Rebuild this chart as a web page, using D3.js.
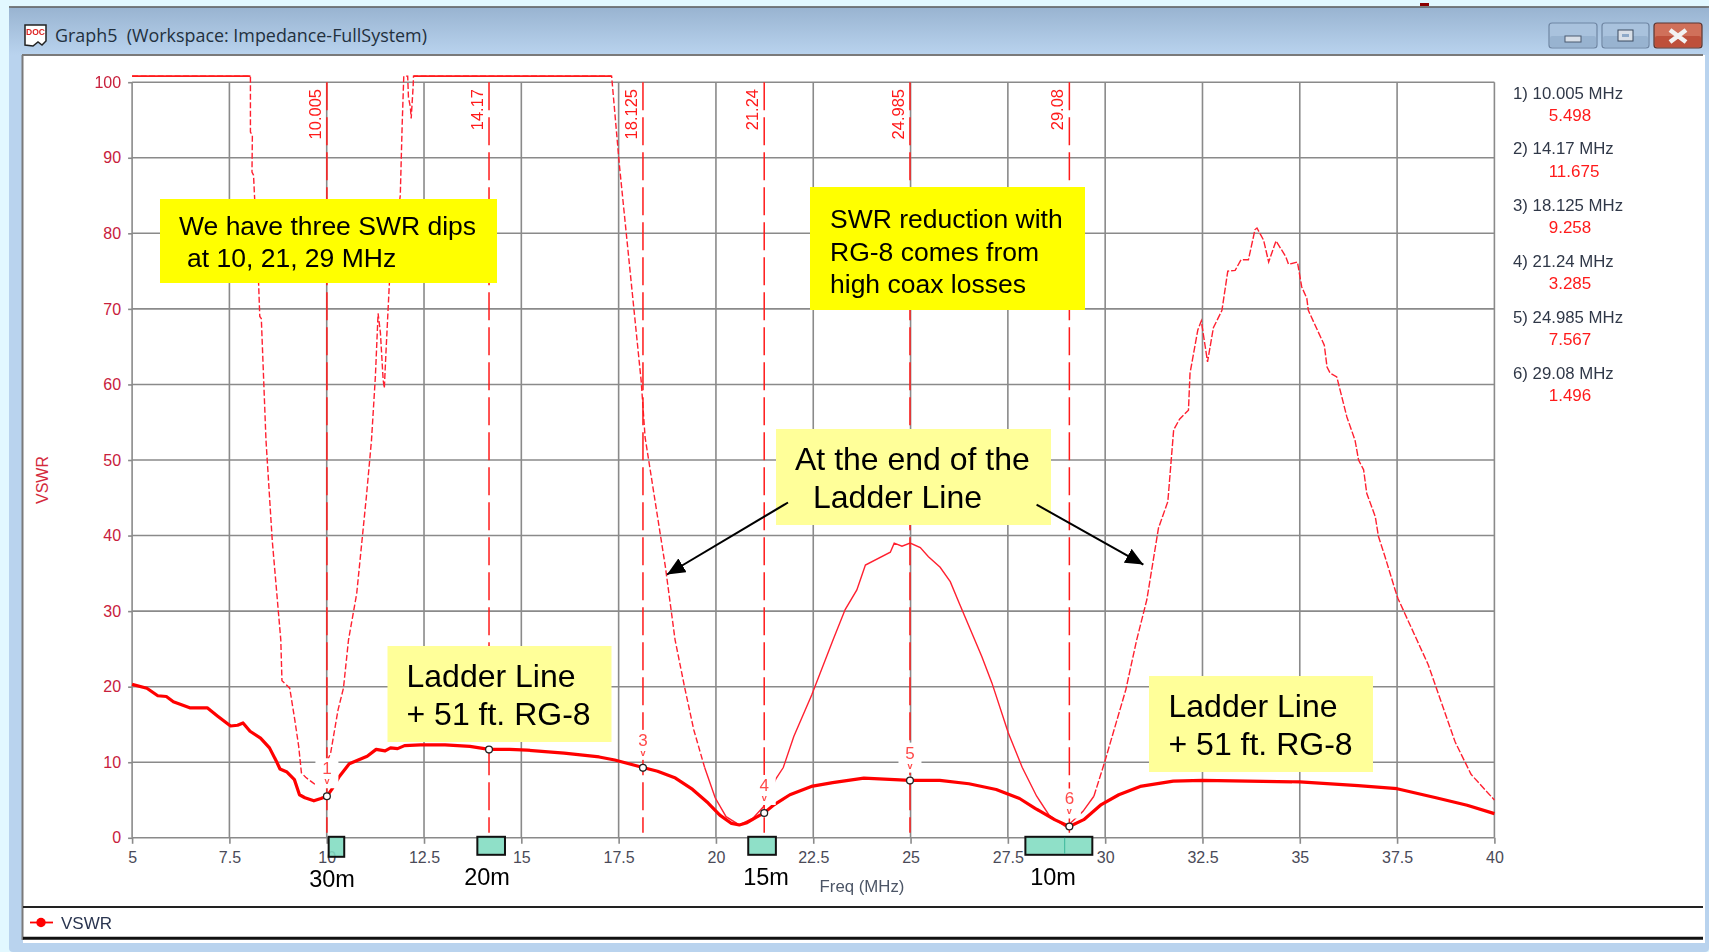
<!DOCTYPE html>
<html>
<head>
<meta charset="utf-8">
<title>Graph5</title>
<script src="https://cdn.jsdelivr.net/npm/d3@7"></script>
<style>
  html, body { margin: 0; padding: 0; background: #e2f8ff; overflow: hidden; }
  svg { display: block; font-family: "Liberation Sans", Arial, sans-serif; filter: blur(0.35px); }
</style>
</head>
<body>
<svg id="chart" width="1709" height="952"></svg>
<script>
// ---- data ----
var xTicks = [5, 7.5, 10, 12.5, 15, 17.5, 20, 22.5, 25, 27.5, 30, 32.5, 35, 37.5, 40];
var yTicks = [0, 10, 20, 30, 40, 50, 60, 70, 80, 90, 100];

// heavy trace: ladder line + 51 ft RG-8
var coaxFreq = [5, 5.38, 5.66, 5.88, 6.06, 6.48, 6.93, 7.2, 7.53, 7.71, 7.85, 8.03, 8.3, 8.53, 8.71, 8.8, 8.98, 9.17, 9.3, 9.44, 9.67, 9.85, 10.005, 10.13, 10.31, 10.58, 10.81, 11.04, 11.27, 11.5, 11.64, 11.82, 12, 12.41, 13.04, 13.68, 14.17, 14.7, 15.15, 16.1, 17, 17.4, 18.125, 18.5, 18.96, 19.4, 19.8, 20.1, 20.4, 20.6, 20.8, 21.03, 21.24, 21.5, 21.9, 22.45, 23, 23.8, 24.985, 25.75, 26.5, 27.2, 27.8, 28.2, 28.7, 29.08, 29.45, 29.9, 30.35, 30.9, 31.75, 32.5, 35, 36.5, 37.5, 38.5, 39.3, 40];
var coaxVswr = [20.3, 19.8, 18.8, 18.7, 18, 17.2, 17.2, 16.1, 14.8, 14.9, 15.2, 14.1, 13.2, 11.9, 10.1, 9.1, 8.7, 7.7, 5.7, 5.3, 4.9, 5.2, 5.5, 6.4, 8, 9.8, 10.3, 10.8, 11.7, 11.5, 11.9, 11.8, 12.2, 12.3, 12.3, 12.1, 11.7, 11.7, 11.6, 11.2, 10.7, 10.3, 9.3, 8.8, 7.9, 6.4, 4.6, 3, 1.9, 1.7, 2, 2.7, 3.3, 4.4, 5.7, 6.8, 7.3, 7.9, 7.6, 7.6, 7.15, 6.4, 5.2, 3.9, 2.4, 1.5, 2.4, 4.4, 5.7, 6.8, 7.5, 7.6, 7.4, 6.9, 6.5, 5.3, 4.3, 3.2];

// thin trace: end of the ladder line (100.8 = pinned above the plot top)
var ladderFreq = [5, 8.04, 8.04, 8.09, 8.08, 8.12, 8.25, 8.28, 8.32, 8.44, 8.6, 8.82, 8.85, 9.05, 9.18, 9.28, 9.35, 9.46, 9.69, 9.76, 10.1, 10.29, 10.43, 10.56, 10.77, 11.02, 11.15, 11.25, 11.32, 11.38, 11.45, 11.48, 11.52, 11.61, 11.89, 11.94, 11.98, 12.08, 12.1, 12.15, 12.17, 12.22, 12.23, 17.32, 17.52, 18.08, 18.18, 18.7, 18.95, 19.2, 19.43, 19.71, 19.98, 20.26, 20.6, 20.95, 21.22, 21.54, 21.73, 22, 22.46, 23.01, 23.32, 23.62, 23.84, 24.48, 24.58, 24.78, 24.99, 25.25, 25.46, 25.76, 26.02, 26.27, 26.83, 27.09, 27.51, 27.87, 28.24, 28.56, 29, 29.43, 29.71, 29.98, 30.53, 30.81, 31.07, 31.37, 31.61, 31.76, 31.91, 32.14, 32.18, 32.38, 32.47, 32.63, 32.78, 33, 33.15, 33.34, 33.49, 33.68, 33.85, 33.9, 34.07, 34.2, 34.39, 34.64, 34.71, 34.94, 35.05, 35.18, 35.22, 35.63, 35.7, 35.78, 35.95, 36.21, 36.42, 36.51, 36.64, 36.72, 36.94, 37.02, 37.19, 37.45, 37.52, 38.3, 38.99, 39.4, 40];
var ladderVswr = [100.8, 100.8, 93.4, 93, 88.1, 87.7, 73.4, 69, 68.7, 52.6, 39.4, 26.2, 20.8, 19.8, 15.6, 12.1, 8.6, 8, 7.1, 7.1, 11.2, 16.9, 19.8, 26.2, 32.3, 45.2, 52.6, 61, 69.4, 66.8, 60.6, 59.5, 64, 73.4, 85, 94.6, 100.8, 100.8, 98, 96.7, 95.2, 99.4, 100.8, 100.8, 89, 60.4, 53, 35.9, 26.2, 19.8, 14.3, 9.3, 5.3, 2.8, 1.7, 2.6, 4.1, 7.8, 9.3, 13.4, 18.9, 26.2, 30.2, 32.8, 36.1, 37.8, 39, 38.6, 39, 38.4, 37.2, 35.8, 33.9, 30.8, 24, 20.5, 13.9, 9.3, 5.5, 3, 1.4, 3.5, 5.5, 9.9, 19.6, 26.2, 31.5, 41, 44.5, 54, 55.4, 56.6, 61.5, 67.2, 68.4, 63, 67.5, 69.8, 75, 75.1, 76.5, 76.5, 80.5, 80.7, 79.1, 76.2, 79, 76.9, 75.9, 76.2, 72.9, 71.4, 69.8, 65.2, 62.3, 61.5, 61, 55.7, 52.6, 50, 48.7, 45.6, 42.5, 39.9, 37.2, 32.8, 31.7, 22.9, 12.7, 8.4, 5];

var markerFreq = [10.005, 14.17, 18.125, 21.24, 24.985, 29.08];
var markerVswr = [5.498, 11.675, 9.258, 3.285, 7.567, 1.496];
var markerText = ["10.005", "14.17", "18.125", "21.24", "24.985", "29.08"];

var bandNames = ["30m", "20m", "15m", "10m"];
var bandLow = [10.05, 13.87, 20.83, 27.95];
var bandHigh = [10.45, 14.58, 21.54, 29.67];

// ---- scales ----
var svg = d3.select("#chart");
var x = d3.scaleLinear().domain([5, 40]).range([132.1, 1494.4]);
var y = d3.scaleLinear().domain([0, 100]).range([837.8, 82.2]);

var RED = "#ff1a1a";
var THIN = "#ff2030";
var GRID = "#8a8a8a";

// ---- window chrome ----
var defs = svg.append("defs");
var bar = defs.append("linearGradient").attr("id", "bar").attr("x1", 0).attr("x2", 0).attr("y1", 0).attr("y2", 1);
bar.append("stop").attr("offset", 0).attr("stop-color", "#99b4d1");
bar.append("stop").attr("offset", 1).attr("stop-color", "#b9d3ee");
var head = defs.append("marker").attr("id", "head").attr("markerUnits", "userSpaceOnUse")
  .attr("viewBox", "0 0 18 16").attr("refX", 18).attr("refY", 8)
  .attr("markerWidth", 18).attr("markerHeight", 16).attr("orient", "auto");
head.append("path").attr("d", "M0,0L18,8L0,16Z").attr("fill", "#000");

svg.append("rect").attr("x", 9).attr("y", 7).attr("width", 1700).attr("height", 945).attr("rx", 4).attr("fill", "#b9d3ee");
svg.append("rect").attr("x", 9).attr("y", 8).attr("width", 1700).attr("height", 47).attr("fill", "url(#bar)");
svg.append("line").attr("x1", 9).attr("x2", 1709).attr("y1", 7).attr("y2", 7).attr("stroke", "#555").attr("stroke-width", 1.5);
svg.append("rect").attr("x", 1420).attr("y", 3).attr("width", 9).attr("height", 3).attr("fill", "#8b0000");
svg.append("rect").attr("x", 23).attr("y", 55).attr("width", 1682).attr("height", 888).attr("fill", "#fff");
svg.append("line").attr("x1", 22).attr("x2", 1703).attr("y1", 55).attr("y2", 55).attr("stroke", "#7a7a7a").attr("stroke-width", 2);
svg.append("line").attr("x1", 22.5).attr("x2", 22.5).attr("y1", 55).attr("y2", 940).attr("stroke", "#7a7a7a").attr("stroke-width", 2);

svg.append("text").attr("x", 55).attr("y", 42).attr("font-family", "'Open Sans'").attr("font-size", 17.9)
  .attr("fill", "#22303e").attr("xml:space", "preserve").text("Graph5  (Workspace: Impedance-FullSystem)");

// doc icon
var icon = svg.append("g").attr("transform", "translate(24,24)");
icon.append("path").attr("d", "M1,1H22V17L18,21L14,18L9,22L1,21Z").attr("fill", "#fff").attr("stroke", "#222").attr("stroke-width", 1.5);
icon.append("text").attr("x", 11.5).attr("y", 11).attr("text-anchor", "middle").attr("font-size", 8.5).attr("font-weight", "bold").attr("fill", "#d22").text("DOC");

// window buttons
var buttons = [[1549, 48, "#a9c2dd", "#8ea9c8"], [1602, 47, "#a9c2dd", "#8ea9c8"], [1654, 48, "#d0705a", "#b23a26"]];
buttons.forEach(function (b) {
  svg.append("rect").attr("x", b[0]).attr("y", 23).attr("width", b[1]).attr("height", 25).attr("rx", 3)
    .attr("fill", b[2]).attr("stroke", b[3] == "#b23a26" ? "#5a3530" : "#6f86a3").attr("stroke-width", 1.2);
  svg.append("rect").attr("x", b[0] + 1).attr("y", 36).attr("width", b[1] - 2).attr("height", 11).attr("rx", 2).attr("fill", b[3]).attr("opacity", 0.6);
});
svg.append("rect").attr("x", 1565).attr("y", 36).attr("width", 16).attr("height", 6).attr("fill", "#d8dfe8").attr("stroke", "#4a5a70");
svg.append("rect").attr("x", 1618).attr("y", 30).attr("width", 15).attr("height", 11).attr("fill", "#d8dfe8").attr("stroke", "#3a4a60");
svg.append("rect").attr("x", 1622).attr("y", 34).attr("width", 7).attr("height", 3).attr("fill", "#8ea9c8");
svg.append("path").attr("d", "M1670,30L1686,42M1686,30L1670,42").attr("stroke", "#f2f2f2").attr("stroke-width", 4.5).attr("fill", "none");

// ---- grid and axes ----
svg.append("g").selectAll("line").data(xTicks).enter().append("line")
  .attr("x1", function (d) { return x(d); }).attr("x2", function (d) { return x(d); })
  .attr("y1", y(100)).attr("y2", y(0)).attr("stroke", GRID).attr("stroke-width", 1.6);
svg.append("g").selectAll("line").data(yTicks).enter().append("line")
  .attr("x1", x(5)).attr("x2", x(40))
  .attr("y1", function (d) { return y(d); }).attr("y2", function (d) { return y(d); })
  .attr("stroke", GRID).attr("stroke-width", 1.6);

var xAxis = svg.append("g").attr("transform", "translate(0," + y(0) + ")")
  .call(d3.axisBottom(x).tickValues(xTicks).tickSize(6).tickPadding(8).tickFormat(function (d) { return String(d); }));
xAxis.select(".domain").remove();
xAxis.selectAll("line").attr("stroke", GRID).attr("stroke-width", 1.6);
xAxis.selectAll("text").attr("font-family", "'Liberation Sans'").attr("font-size", 16).attr("fill", "#4a4a58");

var yAxis = svg.append("g").attr("transform", "translate(" + x(5) + ",0)")
  .call(d3.axisLeft(y).tickValues(yTicks).tickSize(4).tickPadding(7).tickFormat(function (d) { return String(d); }));
yAxis.select(".domain").remove();
yAxis.selectAll("line").attr("stroke", GRID).attr("stroke-width", 1.6);
yAxis.selectAll("text").attr("font-family", "'Liberation Sans'").attr("font-size", 16).attr("fill", "#c8203c");

svg.append("text").attr("transform", "translate(48,480) rotate(-90)").attr("text-anchor", "middle")
  .attr("font-size", 16).attr("fill", "#d42a3c").text("VSWR");
svg.append("text").attr("x", 862).attr("y", 892).attr("text-anchor", "middle")
  .attr("font-size", 16.8).attr("fill", "#4c5566").text("Freq (MHz)");

// ---- traces ----
var line = d3.line().x(function (d) { return x(d[0]); }).y(function (d) { return y(d[1]); });
var ladder = d3.zip(ladderFreq, ladderVswr);

// the centre of the thin trace plots almost solid, the two outer parts dashed
var SOLID_FROM = 19.71, SOLID_TO = 29.71;
var ladderParts = [
  { pts: ladder.filter(function (d) { return d[0] <= SOLID_FROM; }), dash: "6 2.5" },
  { pts: ladder.filter(function (d) { return d[0] >= SOLID_FROM && d[0] <= SOLID_TO; }), dash: null },
  { pts: ladder.filter(function (d) { return d[0] >= SOLID_TO; }), dash: "7 2" }
];
ladderParts.forEach(function (p) {
  svg.append("path").datum(p.pts).attr("d", line)
    .attr("fill", "none").attr("stroke", THIN).attr("stroke-width", 1.4).attr("stroke-dasharray", p.dash);
});
svg.append("path").datum(d3.zip(coaxFreq, coaxVswr)).attr("d", line)
  .attr("fill", "none").attr("stroke", "#ff0000").attr("stroke-width", 3.2).attr("stroke-linejoin", "round");

// clean the flat part where the thin trace is pinned above the plot
svg.append("path").datum([[5, 100.8], [8.04, 100.8]]).attr("d", line).attr("fill", "none").attr("stroke", RED).attr("stroke-width", 1.8);
svg.append("path").datum([[12.23, 100.8], [17.32, 100.8]]).attr("d", line).attr("fill", "none").attr("stroke", RED).attr("stroke-width", 1.8);

// ---- frequency markers ----
var markers = d3.zip(markerFreq, markerVswr, markerText);
svg.append("g").selectAll("line").data(markers).enter().append("line")
  .attr("x1", function (d) { return x(d[0]); }).attr("x2", function (d) { return x(d[0]); })
  .attr("y1", y(100)).attr("y2", y(0) - 5)
  .attr("stroke", RED).attr("stroke-width", 1.5).attr("stroke-dasharray", "28 7");

svg.append("g").selectAll("text").data(markers).enter().append("text")
  .attr("transform", function (d) { return "translate(" + (x(d[0]) - 6) + ",89) rotate(-90)"; })
  .attr("text-anchor", "end").attr("font-size", 16.5).attr("fill", RED)
  .text(function (d) { return d[2]; });

svg.append("g").selectAll("rect").data(markers).enter().append("rect")
  .attr("x", function (d) { return x(d[0]) - 11.5; }).attr("width", 23)
  .attr("y", function (d) { return y(d[1]) - 38; }).attr("height", 30)
  .attr("fill", "#fff");

// marker 2's tag sits behind the yellow note in the original, so it is left out
var tagged = markers.map(function (d, i) { return { f: d[0], v: d[1], n: i + 1 }; }).filter(function (d) { return d.n != 2; });
svg.append("g").selectAll("text").data(tagged).enter().append("text")
  .attr("x", function (d) { return x(d.f); }).attr("y", function (d) { return y(d.v) - 22; })
  .attr("text-anchor", "middle").attr("font-size", 17).attr("fill", "#ff4a4a")
  .text(function (d) { return d.n; });
svg.append("g").selectAll("text").data(tagged).enter().append("text")
  .attr("x", function (d) { return x(d.f); }).attr("y", function (d) { return y(d.v) - 12; })
  .attr("text-anchor", "middle").attr("font-size", 9).attr("font-weight", "bold").attr("fill", "#ff4a4a")
  .text("v");

svg.append("g").selectAll("circle").data(markers).enter().append("circle")
  .attr("cx", function (d) { return x(d[0]); }).attr("cy", function (d) { return y(d[1]); })
  .attr("r", 3.4).attr("fill", "#fff").attr("stroke", "#222").attr("stroke-width", 1.3);

// side readout
var readTop = [92.7, 148.3, 205, 260.7, 317.3, 372.7];
var readVal = [115, 170.7, 227.3, 283, 339.3, 395];
markers.forEach(function (d, i) {
  svg.append("text").attr("x", 1513).attr("y", readTop[i] + 6).attr("font-size", 16.8).attr("fill", "#303848")
    .text((i + 1) + ") " + d[2] + " MHz");
  svg.append("text").attr("x", i == 1 ? 1574 : 1570).attr("y", readVal[i] + 6).attr("text-anchor", "middle")
    .attr("font-size", 17).attr("fill", RED).text(String(d[1]));
});

// ---- pasted annotations ----
function note(px, py, w, h, fill, size, lines) {
  svg.append("rect").attr("x", px).attr("y", py).attr("width", w).attr("height", h).attr("fill", fill);
  lines.forEach(function (l) {
    svg.append("text").attr("x", l[0]).attr("y", l[1]).attr("font-size", size).attr("fill", "#000").text(l[2]);
  });
}
note(160, 199, 337, 84, "#ffff00", 26.5, [[179, 235, "We have three SWR dips"], [187, 267, "at 10, 21, 29 MHz"]]);
note(810, 187, 275, 123, "#ffff00", 26.5, [[830, 228, "SWR reduction with"], [830, 261, "RG-8 comes from"], [830, 293, "high coax losses"]]);
note(776, 429, 275, 96, "#ffff99", 32, [[795, 470, "At the end of the"], [813, 508, "Ladder Line"]]);
note(387.5, 646, 224, 96, "#ffff99", 32, [[406.5, 687, "Ladder Line"], [406.5, 725, "+ 51 ft. RG-8"]]);
note(1149, 676, 224, 96, "#ffff99", 32, [[1168.5, 717, "Ladder Line"], [1168.5, 755, "+ 51 ft. RG-8"]]);

svg.append("line").attr("x1", 788).attr("y1", 502.5).attr("x2", 667).attr("y2", 574.5)
  .attr("stroke", "#000").attr("stroke-width", 2).attr("marker-end", "url(#head)");
svg.append("line").attr("x1", 1036.6).attr("y1", 504.7).attr("x2", 1143.4).attr("y2", 564.6)
  .attr("stroke", "#000").attr("stroke-width", 2).attr("marker-end", "url(#head)");

// ham band boxes
var bands = d3.zip(bandNames, bandLow, bandHigh);
svg.append("g").selectAll("rect").data(bands).enter().append("rect")
  .attr("x", function (d) { return x(d[1]); }).attr("width", function (d) { return x(d[2]) - x(d[1]); })
  .attr("y", y(0) - 1).attr("height", function (d) { return d[0] == "30m" ? 20 : 18; })
  .attr("fill", "#7fdcc0").attr("fill-opacity", 0.88).attr("stroke", "#111").attr("stroke-width", 2);
svg.append("line").attr("x1", x(28.96)).attr("x2", x(28.96)).attr("y1", y(0)).attr("y2", y(0) + 16).attr("stroke", "#3cb89a");

var bandLabelY = [887, 885, 885, 885];
var bandLabelX = [332, 487, 766, 1053];
bands.forEach(function (d, i) {
  svg.append("text").attr("x", bandLabelX[i]).attr("y", bandLabelY[i]).attr("text-anchor", "middle")
    .attr("font-size", 23.5).attr("fill", "#000").text(d[0]);
});

// ---- legend strip ----
svg.append("line").attr("x1", 23).attr("x2", 1703).attr("y1", 907).attr("y2", 907).attr("stroke", "#222").attr("stroke-width", 2);
svg.append("line").attr("x1", 23).attr("x2", 1703).attr("y1", 938.3).attr("y2", 938.3).attr("stroke", "#111").attr("stroke-width", 3);
svg.append("line").attr("x1", 30).attr("x2", 53).attr("y1", 922.5).attr("y2", 922.5).attr("stroke", "#ff0000").attr("stroke-width", 1.8);
svg.append("path").attr("d", d3.symbol(d3.symbolCircle, 70)).attr("transform", "translate(41,922.5)").attr("fill", "#ff0000");
svg.append("text").attr("x", 61).attr("y", 928.5).attr("font-size", 17).attr("fill", "#2a3550").text("VSWR");
</script>
</body>
</html>
